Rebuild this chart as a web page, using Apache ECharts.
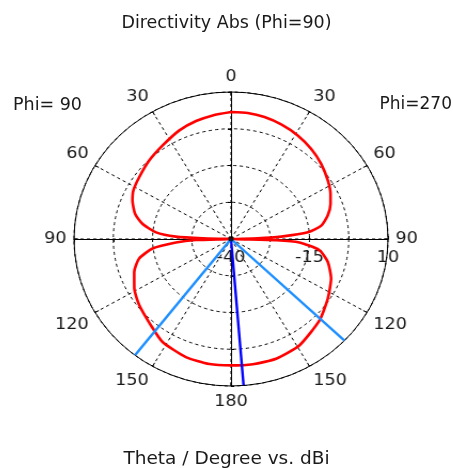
<!DOCTYPE html>
<html><head><meta charset="utf-8">
<script src="https://cdn.jsdelivr.net/npm/echarts/dist/echarts.min.js"></script>
<style>
html,body{margin:0;padding:0;background:#fff;}
#wrap{position:relative;width:453px;height:468px;overflow:hidden;}
#txt,#pol{position:absolute;left:0;top:0;width:453px;height:468px;}
#pol{transform:scaleX(1.068);transform-origin:231px 0;}
</style></head><body>
<div id="wrap"><div id="txt"></div><div id="pol"></div></div>
<script>
// ---- data (dBi vs theta in degrees) ----
// Phi=270 half-plane (drawn on the right)
const thetaPhi270 = [0, 7.1, 14.4, 22.3, 31.1, 39.7, 48.3, 57.2, 64.2, 69.4, 75.5, 81.0, 84.7, 87.1, 88.5, 89.5, 90, 90.5, 91.7, 93.1, 97.7, 104.2, 112.9, 123.4, 134.5, 149.0, 160.6, 170.7, 180];
const dirPhi270   = [3.19, 3.17, 2.82, 2.11, 1.15, -0.1, -1.56, -3.3, -4.8, -6.15, -8.2, -10.9, -15.4, -24, -31.5, -40, -40, -40, -25.6, -18.2, -11.6, -8.2, -5.4, -3.1, -0.5, 2.24, 3.19, 3.15, 3.0];
// Phi=90 half-plane (drawn on the left)
const thetaPhi90  = [0, 7.9, 15.5, 24.0, 34.4, 44.3, 54.3, 62.1, 67.4, 74.4, 79.7, 84.6, 87.4, 88.6, 89.5, 90, 90.5, 91.8, 93.9, 97.4, 102.8, 110.0, 118.7, 127.7, 139.0, 148.1, 160.3, 170.8, 180];
const dirPhi90    = [3.19, 2.45, 1.64, 0.45, -1.44, -2.7, -4.0, -4.8, -6.0, -8.3, -11.4, -16, -22.4, -31, -40, -40, -40, -28.8, -22.4, -14.8, -10, -7.2, -4.9, -3.1, -1.1, 1.27, 2.65, 3.1, 3.0];
const mainLobeTheta270 = 175.4;          // main lobe direction (Phi=270 side)
const beamEdgeTheta270 = 133.7;          // 3 dB edge, Phi=270 side
const beamEdgeTheta90  = 142.3;          // 3 dB edge, Phi=90 side
const originPoint = [[0, 0]];            // plot origin marker (radius 0)
const angleTicks = [0, 30, 60, 90, 120, 150, 180];
const radiusTickLabels = [-40, -15, 10];
const FLOOR = -40, CEIL = 10, STEP = 12.5;
const titleText = 'Directivity Abs (Phi=90)';
const xTitle = 'Theta / Degree vs. dBi';
const leftLabel = 'Phi= 90', rightLabel = 'Phi=270';

const FONT = 'DejaVu Sans';
const TXT = '#1a1a1a';
const RMAX = CEIL - FLOOR;
const toR = v => Math.max(v - FLOOR, 0);

// right side: theta -> clockwise angle theta; left side: 360 - theta
const redData = [];
thetaPhi270.forEach((t, i) => redData.push([toR(dirPhi270[i]), t]));
for (let i = thetaPhi90.length - 1; i >= 0; i--) redData.push([toR(dirPhi90[i]), 360 - thetaPhi90[i]]);

const ray = a => [[0, a], [RMAX, a]];

// ---- text chart ----
const ct = echarts.init(document.getElementById('txt'));
const tStyle = fs => ({fontFamily: FONT, fontSize: fs, fontWeight: 'normal', color: TXT});
ct.setOption({
  animation: false,
  title: [
    {text: titleText, left: 'center', top: 9, textStyle: tStyle(17.5)},
    {text: leftLabel, left: 8, top: 91, textStyle: tStyle(17.5)},
    {text: rightLabel, right: -4, top: 91, textStyle: tStyle(17)},
    {text: xTitle, left: 'center', top: 445, textStyle: tStyle(18.5)}
  ]
});

// ---- polar chart ----
const cp = echarts.init(document.getElementById('pol'));
const P = {center: [231, 239], radius: 147};
const blk = {color: '#000', width: 1};
const LFS = 16.5;
const radBase = (idx, showLabel, split) => ({
  polarIndex: idx, type: 'value', min: 0, max: RMAX, interval: STEP,
  axisLine: {show: true, lineStyle: blk},
  axisTick: {show: true, length: 3, lineStyle: blk},
  axisLabel: {show: showLabel, margin: -10, verticalAlign: 'top', fontFamily: FONT, fontSize: LFS, color: TXT,
    showMinLabel: true, showMaxLabel: true,
    formatter: v => { const d = v + FLOOR; return radiusTickLabels.indexOf(d) >= 0 ? String(d) : ''; }},
  splitLine: {show: split, lineStyle: {color: '#000', width: 1, type: [3, 3]}},
  splitArea: {show: false}
});
const angHidden = (idx, sa) => ({polarIndex: idx, type: 'value', min: 0, max: 360, startAngle: sa, show: false});
cp.setOption({
  animation: false,
  backgroundColor: 'transparent',
  polar: [P, P, P, P],
  angleAxis: [
    {polarIndex: 0, type: 'value', min: 0, max: 360, interval: 30, startAngle: 90, clockwise: true,
     axisLine: {show: true, lineStyle: blk},
     axisTick: {show: true, inside: true, length: 4, lineStyle: blk},
     splitLine: {show: true, lineStyle: {color: '#000', width: 1, type: [3, 3]}},
     splitArea: {show: false},
     axisLabel: {margin: 7, fontFamily: FONT, fontSize: LFS, color: TXT,
       formatter: v => { if (v >= 360) return ''; const t = v <= 180 ? v : 360 - v; return angleTicks.indexOf(t) >= 0 ? String(t) : ''; }}},
    angHidden(1, 0), angHidden(2, 180), angHidden(3, 270)
  ],
  radiusAxis: [radBase(0, false, true), radBase(1, true, false), radBase(2, false, false), radBase(3, false, false)],
  series: [
    {type: 'line', coordinateSystem: 'polar', polarIndex: 0, data: redData, symbol: 'none', smooth: 0.2,
     lineStyle: {color: '#ff0000', width: 2.6}, z: 3},
    {type: 'line', coordinateSystem: 'polar', polarIndex: 0, data: ray(mainLobeTheta270), symbol: 'none',
     lineStyle: {color: '#0000ff', width: 2.4}, z: 4},
    {type: 'line', coordinateSystem: 'polar', polarIndex: 0, data: ray(beamEdgeTheta270), symbol: 'none',
     lineStyle: {color: '#1e8fff', width: 2.4}, z: 4},
    {type: 'line', coordinateSystem: 'polar', polarIndex: 0, data: ray(360 - beamEdgeTheta90), symbol: 'none',
     lineStyle: {color: '#1e8fff', width: 2.4}, z: 4},
    {type: 'scatter', coordinateSystem: 'polar', polarIndex: 0, data: originPoint, symbol: 'circle', symbolSize: 5,
     itemStyle: {color: '#000'}, z: 5, silent: true}
  ]
});
</script>
</body></html>
